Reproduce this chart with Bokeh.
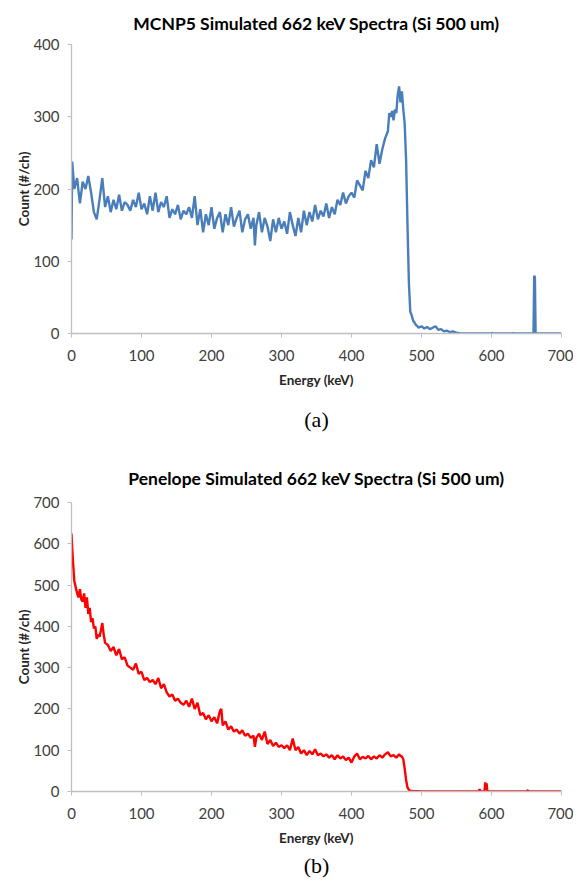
from bokeh.plotting import figure
from bokeh.layouts import column
from bokeh.models import Title, FixedTicker, Range1d
from bokeh.embed import file_html
from bokeh.resources import INLINE

# ---- data: MCNP5 spectrum (energy keV, counts per channel) ----
mcnp_energy = [0, 1, 4, 8, 12, 16, 20, 24, 28, 32, 36, 40, 44, 48, 52, 56, 60, 64, 68, 72,
               76, 80, 84, 88, 92, 96, 100, 104, 108, 112, 116, 120, 124, 128, 132, 136, 140,
               144, 148, 152, 156, 160, 164, 168, 172, 176, 180, 184, 188, 192, 196, 200, 204,
               208, 212, 216, 220, 224, 228, 232, 236, 240, 244, 248, 252, 256, 260, 262, 264,
               268, 272, 276, 280, 284, 288, 292, 296, 300, 304, 308, 312, 316, 320, 324, 328,
               332, 336, 340, 344, 348, 352, 356, 360, 364, 368, 372, 376, 380, 384, 388, 392,
               396, 400, 404, 408, 412, 416, 420, 424, 428, 432, 436, 440, 444, 448, 452, 454,
               456, 458, 460, 462, 464, 466, 468, 470, 472, 474, 476, 478, 480, 482, 484, 486,
               488, 490, 492, 494, 496, 500, 504, 508, 512, 516, 520, 524, 528, 532, 536, 540,
               545, 550, 555, 600, 601, 602, 630, 631, 632, 660, 661, 662, 663, 700]
mcnp_counts = [130, 238, 200, 215, 180, 210, 200, 218, 195, 168, 158, 185, 215, 175, 190, 168, 185, 172, 192, 170,
               182, 178, 170, 185, 175, 195, 172, 180, 165, 190, 170, 195, 168, 182, 175, 190, 160,
               172, 165, 178, 158, 170, 165, 175, 160, 190, 150, 172, 140, 165, 150, 175, 145,
               160, 168, 140, 165, 150, 175, 148, 160, 170, 140, 158, 165, 145, 160, 122, 150,
               168, 140, 160, 148, 128, 158, 140, 160, 145, 155, 138, 168, 150, 135, 160, 140,
               170, 150, 168, 155, 178, 158, 170, 162, 180, 160, 175, 165, 185, 178, 195, 180,
               190, 195, 188, 212, 205, 198, 225, 215, 240, 230, 262, 235, 255, 270, 280, 305,
               300, 308, 295, 310, 305, 330, 342, 320, 335, 310, 290, 240, 150, 70, 30, 25,
               18, 15, 12, 10, 8, 10, 7, 9, 6, 8, 10, 5, 6, 3, 4, 2,
               3, 1, 0, 0, 1, 0, 0, 1, 0, 0, 80, 78, 0, 0]

# ---- data: Penelope spectrum ----
pen_energy = [0, 1, 2, 4, 6, 8, 10, 12, 14, 16, 18, 20, 22, 24, 26, 28, 30, 32, 34, 36, 38, 40,
              42, 44, 46, 48, 52, 56, 60, 64, 68, 72, 76, 80, 84, 88, 92, 96, 100, 104, 108,
              112, 116, 120, 124, 128, 132, 136, 140, 144, 148, 152, 156, 160, 164, 168, 172,
              176, 180, 184, 188, 192, 196, 200, 204, 208, 212, 214, 216, 220, 224, 228, 232,
              236, 240, 244, 248, 252, 256, 260, 262, 264, 268, 272, 276, 280, 284, 288, 292,
              296, 300, 304, 308, 312, 316, 320, 324, 328, 332, 336, 340, 344, 348, 352, 356,
              360, 364, 368, 372, 376, 380, 384, 388, 392, 396, 400, 404, 408, 412, 416, 420,
              424, 428, 432, 436, 440, 444, 448, 452, 456, 460, 464, 468, 470, 472, 474, 476,
              478, 480, 482, 484, 488, 495, 500, 582, 583, 584, 590, 591, 592, 593, 594, 650,
              652, 653, 700]
pen_counts = [625, 590, 560, 510, 495, 480, 470, 490, 465, 460, 480, 445, 470, 430, 445, 410, 420, 395, 400, 370, 380, 375,
              390, 408, 380, 360, 355, 340, 350, 330, 345, 320, 325, 305, 300, 295, 310, 285, 290, 270, 275,
              265, 270, 260, 275, 250, 260, 240, 230, 235, 220, 225, 215, 210, 220, 205, 225,
              200, 215, 185, 190, 175, 185, 170, 180, 165, 195, 200, 160, 170, 150, 158, 145,
              150, 140, 148, 135, 140, 130, 135, 108, 130, 140, 125, 145, 115, 125, 110, 118,
              108, 112, 105, 112, 100, 128, 100, 108, 92, 100, 88, 98, 90, 102, 88, 92,
              85, 90, 82, 88, 78, 88, 80, 85, 76, 82, 70, 85, 92, 78, 84, 80,
              86, 78, 85, 80, 88, 82, 90, 95, 85, 88, 82, 90, 86, 85, 78, 55,
              28, 10, 4, 2, 1, 1, 0, 0, 6, 0, 0, 22, 12, 20, 0, 0,
              3, 0, 0]

x_ticks = [0, 100, 200, 300, 400, 500, 600, 700]
a_ticks = [0, 100, 200, 300, 400]
b_ticks = [0, 100, 200, 300, 400, 500, 600, 700]

FONT = "Lato"
AXIS_GRAY = "#bfbfbf"
TEXT_GRAY = "#404040"


def make_fig(title, caption, ymax, yticks, xs, ys, color, height, top, bottom,
             title_standoff, cap_standoff):
    p = figure(width=573, height=height, output_backend="svg", toolbar_location=None,
               x_range=Range1d(0, 700), y_range=Range1d(0, ymax),
               min_border_left=71, min_border_right=12,
               min_border_top=top, min_border_bottom=bottom)
    p.title.text = title
    p.title.align = "center"
    p.title.text_font = FONT
    p.title.text_font_size = "17.5px"
    p.title.text_font_style = "bold"
    p.title.text_color = "#000000"
    p.title.text_line_height = 0.9
    p.title.standoff = title_standoff
    p.outline_line_color = None
    p.grid.visible = False
    p.background_fill_color = "white"
    for ax, ticks in ((p.xaxis[0], x_ticks), (p.yaxis[0], yticks)):
        ax.ticker = FixedTicker(ticks=ticks)
        ax.axis_line_color = AXIS_GRAY
        ax.axis_line_width = 1.3
        ax.major_tick_line_color = AXIS_GRAY
        ax.major_tick_in = 0
        ax.major_tick_out = 4
        ax.minor_tick_line_color = None
        ax.major_label_text_font = FONT
        ax.major_label_text_font_size = "15px"
        ax.major_label_text_color = TEXT_GRAY
        ax.axis_label_text_font = FONT
        ax.axis_label_text_font_size = "13.5px"
        ax.axis_label_text_font_style = "bold"
        ax.axis_label_text_color = "#262626"
    p.xaxis.axis_label = "Energy (keV)"
    p.yaxis.axis_label = "Count (#/ch)"
    p.xaxis.major_label_standoff = 12
    p.yaxis.major_label_standoff = 8
    p.xaxis.axis_label_standoff = 8
    p.yaxis.axis_label_standoff = -2
    p.line(xs, ys, line_color=color, line_width=2.4)
    cap = Title(text=caption, align="center", text_font="Liberation Serif",
                text_font_size="22px", text_font_style="normal", text_color="#000000",
                standoff=cap_standoff)
    p.add_layout(cap, "below")
    return p


fig_a = make_fig("MCNP5 Simulated 662 keV Spectra (Si 500 um)", "(a)", 400, a_ticks,
                 mcnp_energy, mcnp_counts, "#4a7ebb", 448, 44, 115, 21, 28)
fig_b = make_fig("Penelope Simulated 662 keV Spectra (Si 500 um)", "(b)", 700, b_ticks,
                 pen_energy, pen_counts, "#ff0000", 434, 54, 91, 28, 5)

layout = column(fig_a, fig_b, spacing=0)
open("out.html", "w").write(file_html(layout, INLINE))
